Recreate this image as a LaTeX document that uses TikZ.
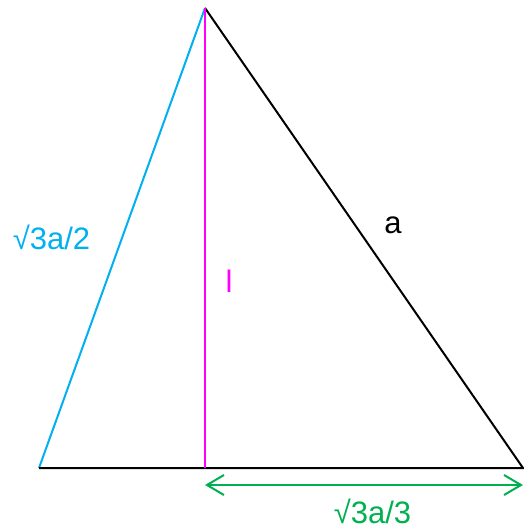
\documentclass[tikz,border=0pt]{standalone}
\usepackage{fontspec}
\setmainfont{Liberation Sans}
\usetikzlibrary{arrows.meta}
\definecolor{skyblue}{RGB}{0,176,240}
\definecolor{pink}{RGB}{255,0,255}
\definecolor{leaf}{RGB}{0,176,80}
\tikzstyle{every picture}=[x=1pt,y=-1pt,line width=2pt]
\tikzstyle{lbl}=[inner sep=0pt,anchor=base,font=\fontsize{31}{36}\selectfont]

\begin{document}
\begin{tikzpicture}
    \useasboundingbox (0,0) rectangle (523,528);
    % Corners of the triangle
    \coordinate (top) at (205,8);
    \coordinate (left) at (39,468);
    \coordinate (right) at (523,468);
    \coordinate (foot) at (205,468);

    % Sides
    \draw[skyblue] (left) -- (top);
    \draw[black] (top) -- (right) -- (left);
    \draw[pink] (top) -- (foot);

    % Arrow under the base
    \coordinate (s) at (205,485);
    \coordinate (e) at (523,485);
    \draw[leaf,{Straight Barb[length=17pt,width=20pt]}-{Straight Barb[length=17pt,width=20pt]}] (s) -- (e);

    % Labels
    \node[lbl,text=skyblue] (side) at (51.5,249) {√3a/2};
    \node[lbl] (hyp) at (393,233) {a};
    \node[lbl,text=pink] (len) at (229,292) {l};
    \node[lbl,text=leaf] (base) at (372.5,523) {√3a/3};
\end{tikzpicture}
\end{document}
